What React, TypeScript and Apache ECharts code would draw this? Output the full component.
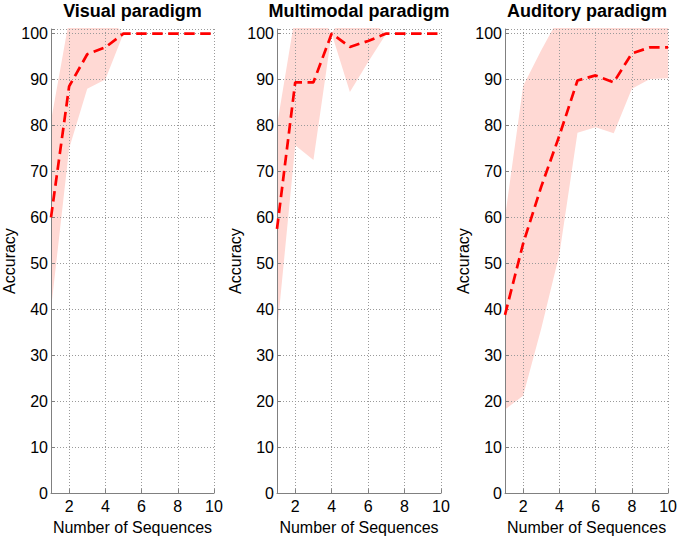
import React, { useEffect, useRef } from "react";
import * as echarts from "echarts";

const X = ["1", "2", "3", "4", "5", "6", "7", "8", "9", "10"];
const titles = ["Visual paradigm", "Multimodal paradigm", "Auditory paradigm"];

const visualMean = [60, 88.5, 95.5, 97, 100, 100, 100, 100, 100, 100];
const visualLower = [40, 75, 88, 90, 100, 100, 100, 100, 100, 100];
const visualUpper = [81, 103, 103, 104, 100, 100, 100, 100, 100, 100];

const multiMean = [57.5, 89.4, 89.4, 100, 97.1, 98.4, 100, 100, 100, 100];
const multiLower = [35, 75.7, 72.5, 100, 87.3, 93.8, 100, 100, 100, 100];
const multiUpper = [80, 104, 106.3, 100, 107, 103, 100, 100, 100, 100];

const audMean = [38.8, 54.3, 66.7, 77.8, 89.8, 90.9, 89.4, 95.7, 97, 97];
const audLower = [18.2, 21.2, 35.8, 52, 78.4, 79.6, 78.3, 88, 90.1, 90.3];
const audUpper = [60, 88.6, 96.4, 103.6, 102, 102.5, 102, 103.5, 104, 104];

const xTicks = [2, 4, 6, 8, 10];
const yTicks = [0, 10, 20, 30, 40, 50, 60, 70, 80, 90, 100];
const yTickLines = [...yTicks, 101];

const panels = [
  { mean: visualMean, lower: visualLower, upper: visualUpper },
  { mean: multiMean, lower: multiLower, upper: multiUpper },
  { mean: audMean, lower: audLower, upper: audUpper },
];

const gridLeft = [51, 277, 505];
const gridWidth = [163, 164, 164];
const FONT = "'Liberation Sans', Arial, Helvetica, sans-serif";

const isXTick = (_idx: number, val: string) => xTicks.indexOf(Number(val)) >= 0;

export default function App() {
  const ref = useRef<HTMLDivElement>(null);
  useEffect(() => {
    const chart = echarts.init(ref.current!, null, { renderer: "svg" });
    const grid = panels.map((_, i) => ({
      left: gridLeft[i],
      top: 29,
      width: gridWidth[i],
      height: 470,
    }));
    const axisLine = { show: true, lineStyle: { color: "#808080", width: 1 } };
    const splitStyle = { color: "#9a9a9a", type: [1, 2] as any, width: 1 };
    const xAxis = panels.map((_, i) => ({
      type: "category",
      gridIndex: i,
      data: X,
      boundaryGap: false,
      z: 3,
      name: "Number of Sequences",
      nameLocation: "middle",
      nameGap: 24,
      nameTextStyle: { fontSize: 16, color: "#000", fontFamily: FONT },
      axisLine,
      axisTick: {
        show: true,
        inside: true,
        length: 4,
        interval: isXTick,
        lineStyle: { color: "#808080" },
      },
      axisLabel: {
        interval: isXTick,
        fontSize: 16,
        color: "#000",
        fontFamily: FONT,
        margin: 5,
      },
      splitLine: { show: true, interval: isXTick, lineStyle: splitStyle },
    }));
    const yAxis = panels.map((_, i) => ({
      type: "value",
      gridIndex: i,
      min: 0,
      max: 101,
      z: 3,
      name: "Accuracy",
      nameLocation: "middle",
      nameGap: 31,
      nameTextStyle: { fontSize: 16, color: "#000", fontFamily: FONT },
      axisLine,
      axisTick: {
        show: true,
        inside: true,
        length: 4,
        customValues: yTickLines,
        lineStyle: { color: "#808080" },
      },
      axisLabel: {
        customValues: yTicks,
        fontSize: 16,
        color: "#000",
        fontFamily: FONT,
        margin: 3,
      },
      splitLine: { show: true, lineStyle: splitStyle },
    }));
    const series: any[] = [];
    panels.forEach((p, i) => {
      series.push({
        type: "line",
        xAxisIndex: i,
        yAxisIndex: i,
        stack: "band" + i,
        symbol: "none",
        silent: true,
        z: 1,
        lineStyle: { opacity: 0 },
        data: p.lower,
      });
      series.push({
        type: "line",
        xAxisIndex: i,
        yAxisIndex: i,
        stack: "band" + i,
        symbol: "none",
        silent: true,
        z: 1,
        lineStyle: { opacity: 0 },
        areaStyle: { color: "#FFD9D4", opacity: 1 },
        data: p.upper.map((u, j) => u - p.lower[j]),
      });
      series.push({
        type: "line",
        xAxisIndex: i,
        yAxisIndex: i,
        symbol: "none",
        silent: true,
        z: 5,
        lineStyle: { color: "#FF0000", width: 2.7, type: [10.5, 5.5] },
        data: p.mean,
      });
    });
    const graphic = titles.map((t, i) => ({
      type: "text",
      x: gridLeft[i] + gridWidth[i] / 2,
      y: 11,
      style: {
        text: t,
        fontSize: 18,
        fontWeight: "bold",
        fontFamily: FONT,
        fill: "#000",
        align: "center",
        verticalAlign: "middle",
      },
    }));
    chart.setOption({
      animation: false,
      backgroundColor: "#fff",
      grid,
      xAxis,
      yAxis,
      series,
      graphic,
    } as any);
    return () => chart.dispose();
  }, []);
  return (
    <div
      ref={ref}
      style={{ position: "absolute", left: 0, top: 0, width: 680, height: 540 }}
    />
  );
}
